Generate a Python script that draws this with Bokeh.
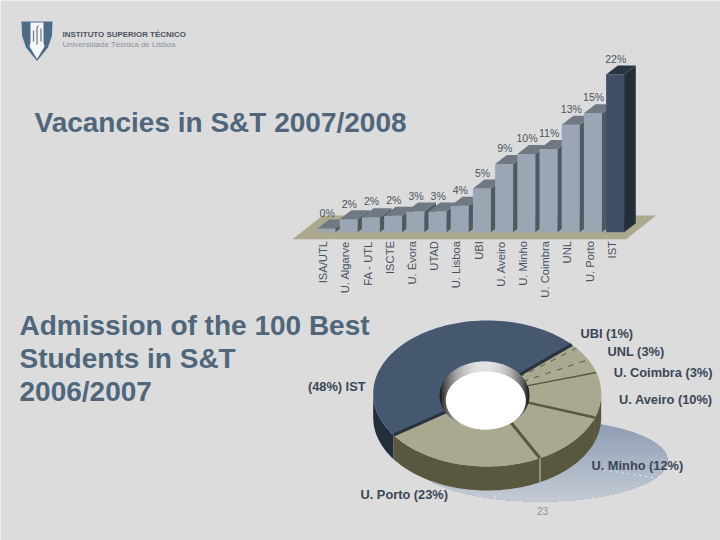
import numpy as np
from math import pi
from bokeh.plotting import figure
from bokeh.models import Range1d, LinearAxis, FixedTicker
from bokeh.core.properties import value as V
from bokeh.embed import file_html
from bokeh.resources import INLINE

# ---- data ----
bar_categories = ["ISA/UTL", "U. Algarve", "FA - UTL", "ISCTE", "U. Évora", "UTAD", "U. Lisboa",
                  "UBI", "U. Aveiro", "U. Minho", "U. Coimbra", "UNL", "U. Porto", "IST"]
bar_labels = ["0%", "2%", "2%", "2%", "3%", "3%", "4%", "5%", "9%", "10%", "11%", "13%", "15%", "22%"]
bar_heights = [0.5, 1.8, 2.1, 2.3, 2.9, 2.9, 3.7, 6.1, 9.5, 10.9, 11.6, 15.0, 16.6, 22.0]

pie_names = ["IST", "U. Porto", "U. Minho", "U. Aveiro", "U. Coimbra", "UNL", "UBI"]
pie_values = [48, 23, 12, 10, 3, 3, 1]

title_top = "Vacancies in S&T 2007/2008"
title_bottom = ["Admission of the 100 Best", "Students in S&T", "2006/2007"]
header = ["INSTITUTO SUPERIOR TÉCNICO", "Universidade Técnica de Lisboa"]
page_number = "23"

# ---- palette / geometry ----
BG = "#dcdcdc"
BAR_FRONT, BAR_SIDE, BAR_TOP = "#9ba6b4", "#4f5962", "#707883"
HI_FRONT, HI_SIDE, HI_TOP = "#3f5066", "#242e39", "#2a3543"
FLOOR = "#aca98f"
SLICE_HI, SLICE = "#45586f", "#aaa88e"
SIDE_HI, SIDE = "#222e3b", "#59583f"
BAR_TXT = "#4a5560"
PIE_TXT = "#3a4756"
TITLE = "#4f667b"
FONT = V("Liberation Sans")

W, H = 720, 540
# bar chart scale: index -> 22.2 px, value -> 7.17 px
BX0, BDX, BY0, BDY = 326.0, 22.2, 231.7, 7.17
# pie scale: unit circle squashed into an ellipse
PX0, PRX, PY0, PRY = 486.7, 114.0, 393.0, 73.0

p = figure(width=W, height=H, output_backend="svg", toolbar_location=None, tools="",
           x_range=Range1d((0 - BX0) / BDX, (W - BX0) / BDX),
           y_range=Range1d((BY0 - H) / BDY, (BY0 - 0) / BDY),
           min_border=0, background_fill_color=BG, border_fill_color=BG,
           outline_line_color=None, x_axis_type=None, y_axis_type=None)
p.grid.visible = False
p.extra_x_ranges = {"px": Range1d(0, W), "pie": Range1d((0 - PX0) / PRX, (W - PX0) / PRX)}
p.extra_y_ranges = {"py": Range1d(H, 0), "pie": Range1d((PY0 - H) / PRY, (PY0 - 0) / PRY)}
PX = dict(x_range_name="px", y_range_name="py")
PIE = dict(x_range_name="pie", y_range_name="pie")


def txt(x, y, s, size, color, style="normal", align="left"):
    p.text([x], [y], text=[s], text_font=FONT, text_font_size=size, text_color=color,
           text_font_style=style, text_align=align, text_baseline="middle", **PX)


# ---- logo and header ----
p.patch([21, 52, 51.5, 47.5, 36.5, 25.5, 21.5], [21, 21, 35, 47, 60.5, 47, 35], fill_color="#4e6b87", line_color=None, **PX)
p.patch([30, 43, 43, 44, 36.5, 29, 30], [22, 22, 42, 46, 58.5, 46, 42], fill_color="#f4f6f8", line_color=None, **PX)
p.multi_line([[33, 33], [36.5, 36.5, 38], [40.5, 40.5]], [[30, 41], [44, 27, 25], [28, 41]], line_color="#6b7480", line_width=1.2, **PX)
txt(62, 34, header[0], "7.95px", "#4a535e", "bold")
txt(62, 43.5, header[1], "7.95px", "#87929d")

# ---- bar chart ----
txt(34, 122, title_top, "28px", TITLE, "bold")

n = len(bar_categories)
HALF, DEPTH_X, DEPTH_Y = 0.405, 0.527, 1.255
p.patch([-1.53, n - 1 + 0.5, n - 1 + 1.85, -0.18],
        [-0.98, -0.98, 2.33, 2.33], fill_color=FLOOR, line_color=None)

xs, ys, cols = [], [], []
top_value = max(bar_heights)
for i, v in enumerate(bar_heights):
    hi = v == top_value
    l, r = i - HALF, i + HALF
    xs += [[l, r, r, l], [r, r + DEPTH_X, r + DEPTH_X, r], [l, r, r + DEPTH_X, l + DEPTH_X]]
    ys += [[0, 0, v, v], [0, DEPTH_Y, v + DEPTH_Y, v], [v, v, v + DEPTH_Y, v + DEPTH_Y]]
    cols += [HI_FRONT if hi else BAR_FRONT, HI_SIDE if hi else BAR_SIDE, HI_TOP if hi else BAR_TOP]
p.patches(xs, ys, fill_color=cols, line_color=None)

idx = list(range(n))
p.text([i + 0.03 for i in idx], [v + 2.2 for v in bar_heights], text=bar_labels,
       text_font=FONT, text_font_size="10.5px", text_color=BAR_TXT,
       text_align="center", text_baseline="middle")

ticks = [i - 0.15 for i in idx]
axis = LinearAxis(fixed_location=0.3, ticker=FixedTicker(ticks=ticks),
                  major_label_overrides={t: c for t, c in zip(ticks, bar_categories)},
                  major_label_orientation=pi / 2, major_label_standoff=5,
                  major_label_text_font="Liberation Sans", major_label_text_font_size="11.2px",
                  major_label_text_color="#46525e", axis_line_color=None,
                  major_tick_line_color=None, minor_tick_line_color=None)
p.add_layout(axis, "below")

# ---- bottom title ----
for k, line in enumerate(title_bottom):
    txt(19, 325 + 33 * k, line, "28px", TITLE, "bold")

# ---- pie shadow ----
sc_x, sc_y, s_rx, s_ry = (540 - PX0) / PRX, (PY0 - 460) / PRY, 127 / PRX, 41 / PRY
t = np.linspace(0, 2 * pi, 181)
sx, sy = sc_x + s_rx * np.cos(t), sc_y + s_ry * np.sin(t)
c0, c1 = np.array([0x8e, 0x9c, 0xb2]), np.array([0xc6, 0xcd, 0xd7])
for f in np.linspace(0, 1, 24):
    limit = sc_y + s_ry * (1 - 2 * f)
    keep = sy <= limit
    col = tuple(int(a) for a in c0 + (c1 - c0) * f)
    p.patch(list(sx[keep]), list(sy[keep]), fill_color="#%02x%02x%02x" % col, line_color=None, **PIE)
for a in (-25, -112):
    r = np.array([0.55, 1.0])
    p.line(list(sc_x + s_rx * r * np.cos(np.radians(a))), list(sc_y + s_ry * r * np.sin(np.radians(a))),
           line_color="#ffffff", line_dash="dotted", line_width=1, line_alpha=0.7, **PIE)

# ---- pie: extruded sides, top faces, dividers ----
START = 42.0
edges = START + np.concatenate([[0], np.cumsum(pie_values)]) * 360.0 / sum(pie_values)
DROP = 24.0 / PRY

side_x, side_y, side_c = [], [], []
for k in range(len(pie_values)):
    for lo, hi in ((180, 360), (540, 720)):
        a0, a1 = max(edges[k], lo), min(edges[k + 1], hi)
        if a1 > a0:
            a = np.radians(np.linspace(a0, a1, 50))
            side_x.append(list(np.cos(a)) + list(np.cos(a[::-1])))
            side_y.append(list(np.sin(a)) + list(np.sin(a[::-1]) - DROP))
            side_c.append(SIDE_HI if k == 0 else SIDE)
p.patches(side_x, side_y, fill_color=side_c, line_color=None, **PIE)

top_x, top_y, top_c = [], [], []
for k in range(len(pie_values)):
    a = np.radians(np.linspace(edges[k], edges[k + 1], 80))
    top_x.append([0.0] + list(np.cos(a)))
    top_y.append([0.0] + list(np.sin(a)))
    top_c.append(SLICE_HI if k == 0 else SLICE)
p.patches(top_x, top_y, fill_color=top_c, line_color=None, **PIE)

div_style = [("#27333f", 3, "solid"), ("#27333f", 3, "solid"), ("#59583f", 3, "solid"),
             ("#59583f", 2.5, "solid"), ("#59583f", 1.5, "solid"), ("#59583f", 1, "dashed"), ("#59583f", 1, "dashed")]
for k in range(len(pie_values)):
    a = np.radians(edges[k])
    col, wid, dash = div_style[k]
    p.line([0.35 * np.cos(a), np.cos(a)], [0.35 * np.sin(a), np.sin(a)],
           line_color=col, line_width=wid, line_dash=dash, **PIE)

# light seam on the front edge of the side wall
a = np.radians(edges[2])
p.line([np.cos(a), np.cos(a)], [np.sin(a), np.sin(a) - DROP], line_color="#b9b8a8", line_width=1.2, **PIE)

# ---- pie: hole ----
hx, hy, hrx, hry = (484 - PX0) / PRX, (PY0 - 395) / PRY, 45 / PRX, 34 / PRY
strips = 40
bounds = np.linspace(-1, 1, strips + 1)
for b0, b1 in zip(bounds[:-1], bounds[1:]):
    u = np.linspace(b0, min(b1 + 0.03, 1), 6)
    w = np.sqrt(np.clip(1 - u ** 2, 0, 1))
    m = abs((b0 + b1) / 2)
    g = int(215 * (1 - m ** 2.2) ** 0.8 + 12)
    p.patch(list(hx + hrx * u) + list(hx + hrx * u[::-1]),
            list(hy + hry * w) + list(hy - hry * w[::-1]),
            fill_color="#%02x%02x%02x" % (g, g, g), line_color=None, **PIE)
a = np.linspace(0, 2 * pi, 120)
p.patch(list((485.3 - PX0) / PRX + 40 / PRX * np.cos(a)), list((PY0 - 400) / PRY + 29 / PRY * np.sin(a)),
        fill_color="#ffffff", line_color=None, **PIE)

# ---- pie labels ----
lab_style = {"IST": (365, 386, "right"), "U. Porto": (360, 494, "left"), "U. Minho": (591, 465, "left"),
             "U. Aveiro": (712, 399, "right"), "U. Coimbra": (712, 372, "right"),
             "UNL": (607, 351, "left"), "UBI": (580, 333, "left")}
for name, v in zip(pie_names, pie_values):
    x, y, al = lab_style[name]
    s = f"({v}%) {name}" if name == "IST" else f"{name} ({v}%)"
    txt(x, y, s, "12.8px", PIE_TXT, "bold", al)

txt(542, 510.5, page_number, "10px", "#8a939c", "normal", "center")

open("out.html", "w").write(file_html(p, INLINE))
